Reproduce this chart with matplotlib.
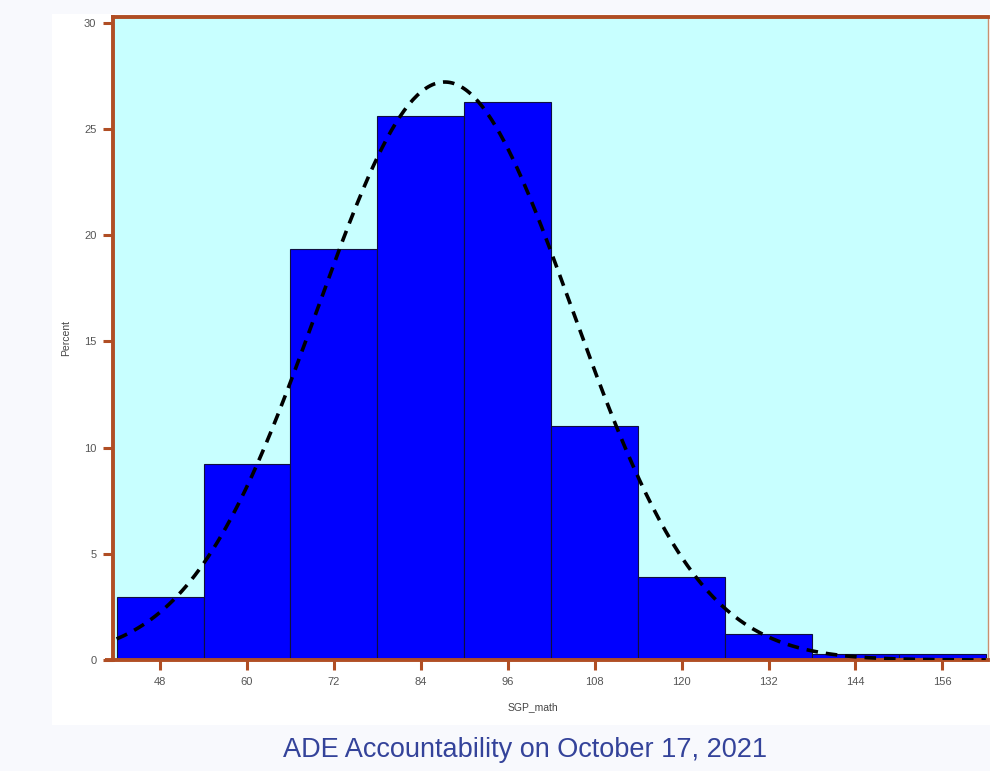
import numpy as np
import matplotlib.pyplot as plt
from matplotlib.patches import Rectangle

# histogram of SGP_math (percent per 12-point bin)
bin_edges = [42, 54, 66, 78, 90, 102, 114, 126, 138, 150, 162]
percent = [2.97, 9.23, 19.36, 25.62, 26.24, 11.02, 3.91, 1.22, 0.28, 0.28]
x_ticks = [48, 60, 72, 84, 96, 108, 120, 132, 144, 156]
y_ticks = [0, 5, 10, 15, 20, 25, 30]

# fitted normal curve
fit_mu = 87.3
fit_sigma = 17.6

BROWN = "#B04E24"
TICK_TXT = "#555555"

plt.rcParams["font.family"] = ["Liberation Sans", "DejaVu Sans"]

fig = plt.figure(figsize=(9.9, 7.71), dpi=100)
fig.patch.set_facecolor("#F8F9FD")
fig.patches.append(Rectangle((52 / 990, 1 - 725 / 771), (990 - 52) / 990, (725 - 14) / 771,
                             transform=fig.transFigure, facecolor="white", edgecolor="none", zorder=-1))

ax = fig.add_axes([113 / 990, 1 - 660 / 771, (988 - 113) / 990, (660 - 17) / 771])
ax.set_zorder(2)
ax.set_facecolor("#C8FFFF")

widths = np.diff(bin_edges)
ax.bar(bin_edges[:-1], percent, width=widths, align="edge",
       color="#0000FF", edgecolor="#101040", linewidth=0.8, zorder=2)

xs = np.linspace(bin_edges[0], bin_edges[-1], 400)
bw = widths[0]
curve = 100 * bw * np.exp(-0.5 * ((xs - fit_mu) / fit_sigma) ** 2) / (fit_sigma * np.sqrt(2 * np.pi))
ax.plot(xs, curve, color="black", lw=2.6, ls=(0, (3.2, 2.2)), zorder=3)

ax.set_xlim(41.5, 162.3)
ax.set_ylim(0, 30.26)
ax.set_xticks(x_ticks)
ax.set_yticks(y_ticks)
ax.tick_params(axis="both", colors=BROWN, width=2.2, length=7, labelsize=8,
               labelcolor=TICK_TXT, pad=5)

for side in ["left", "bottom", "top"]:
    ax.spines[side].set_color(BROWN)
    ax.spines[side].set_linewidth(2.8)
ax.spines["right"].set_color("#C99070")
ax.spines["right"].set_linewidth(1.0)

# bottom axis line runs a little past the left axis
ax.plot([-0.009, 0], [0, 0], transform=ax.transAxes, color=BROWN, lw=2.8,
        solid_capstyle="butt", clip_on=False, zorder=5)

ax.set_ylabel("Percent", fontsize=7.5, color="#444444", labelpad=9)
ax.set_xlabel("SGP_math", fontsize=7.5, color="#444444", labelpad=9)
ax.xaxis.set_label_coords(0.48, -0.066)

fig.text(525 / 990, 1 - 750 / 771, "ADE Accountability on October 17, 2021",
         ha="center", va="center", fontsize=19.5, color="#34439A")

fig.savefig("out.png", dpi=100, facecolor=fig.get_facecolor())
